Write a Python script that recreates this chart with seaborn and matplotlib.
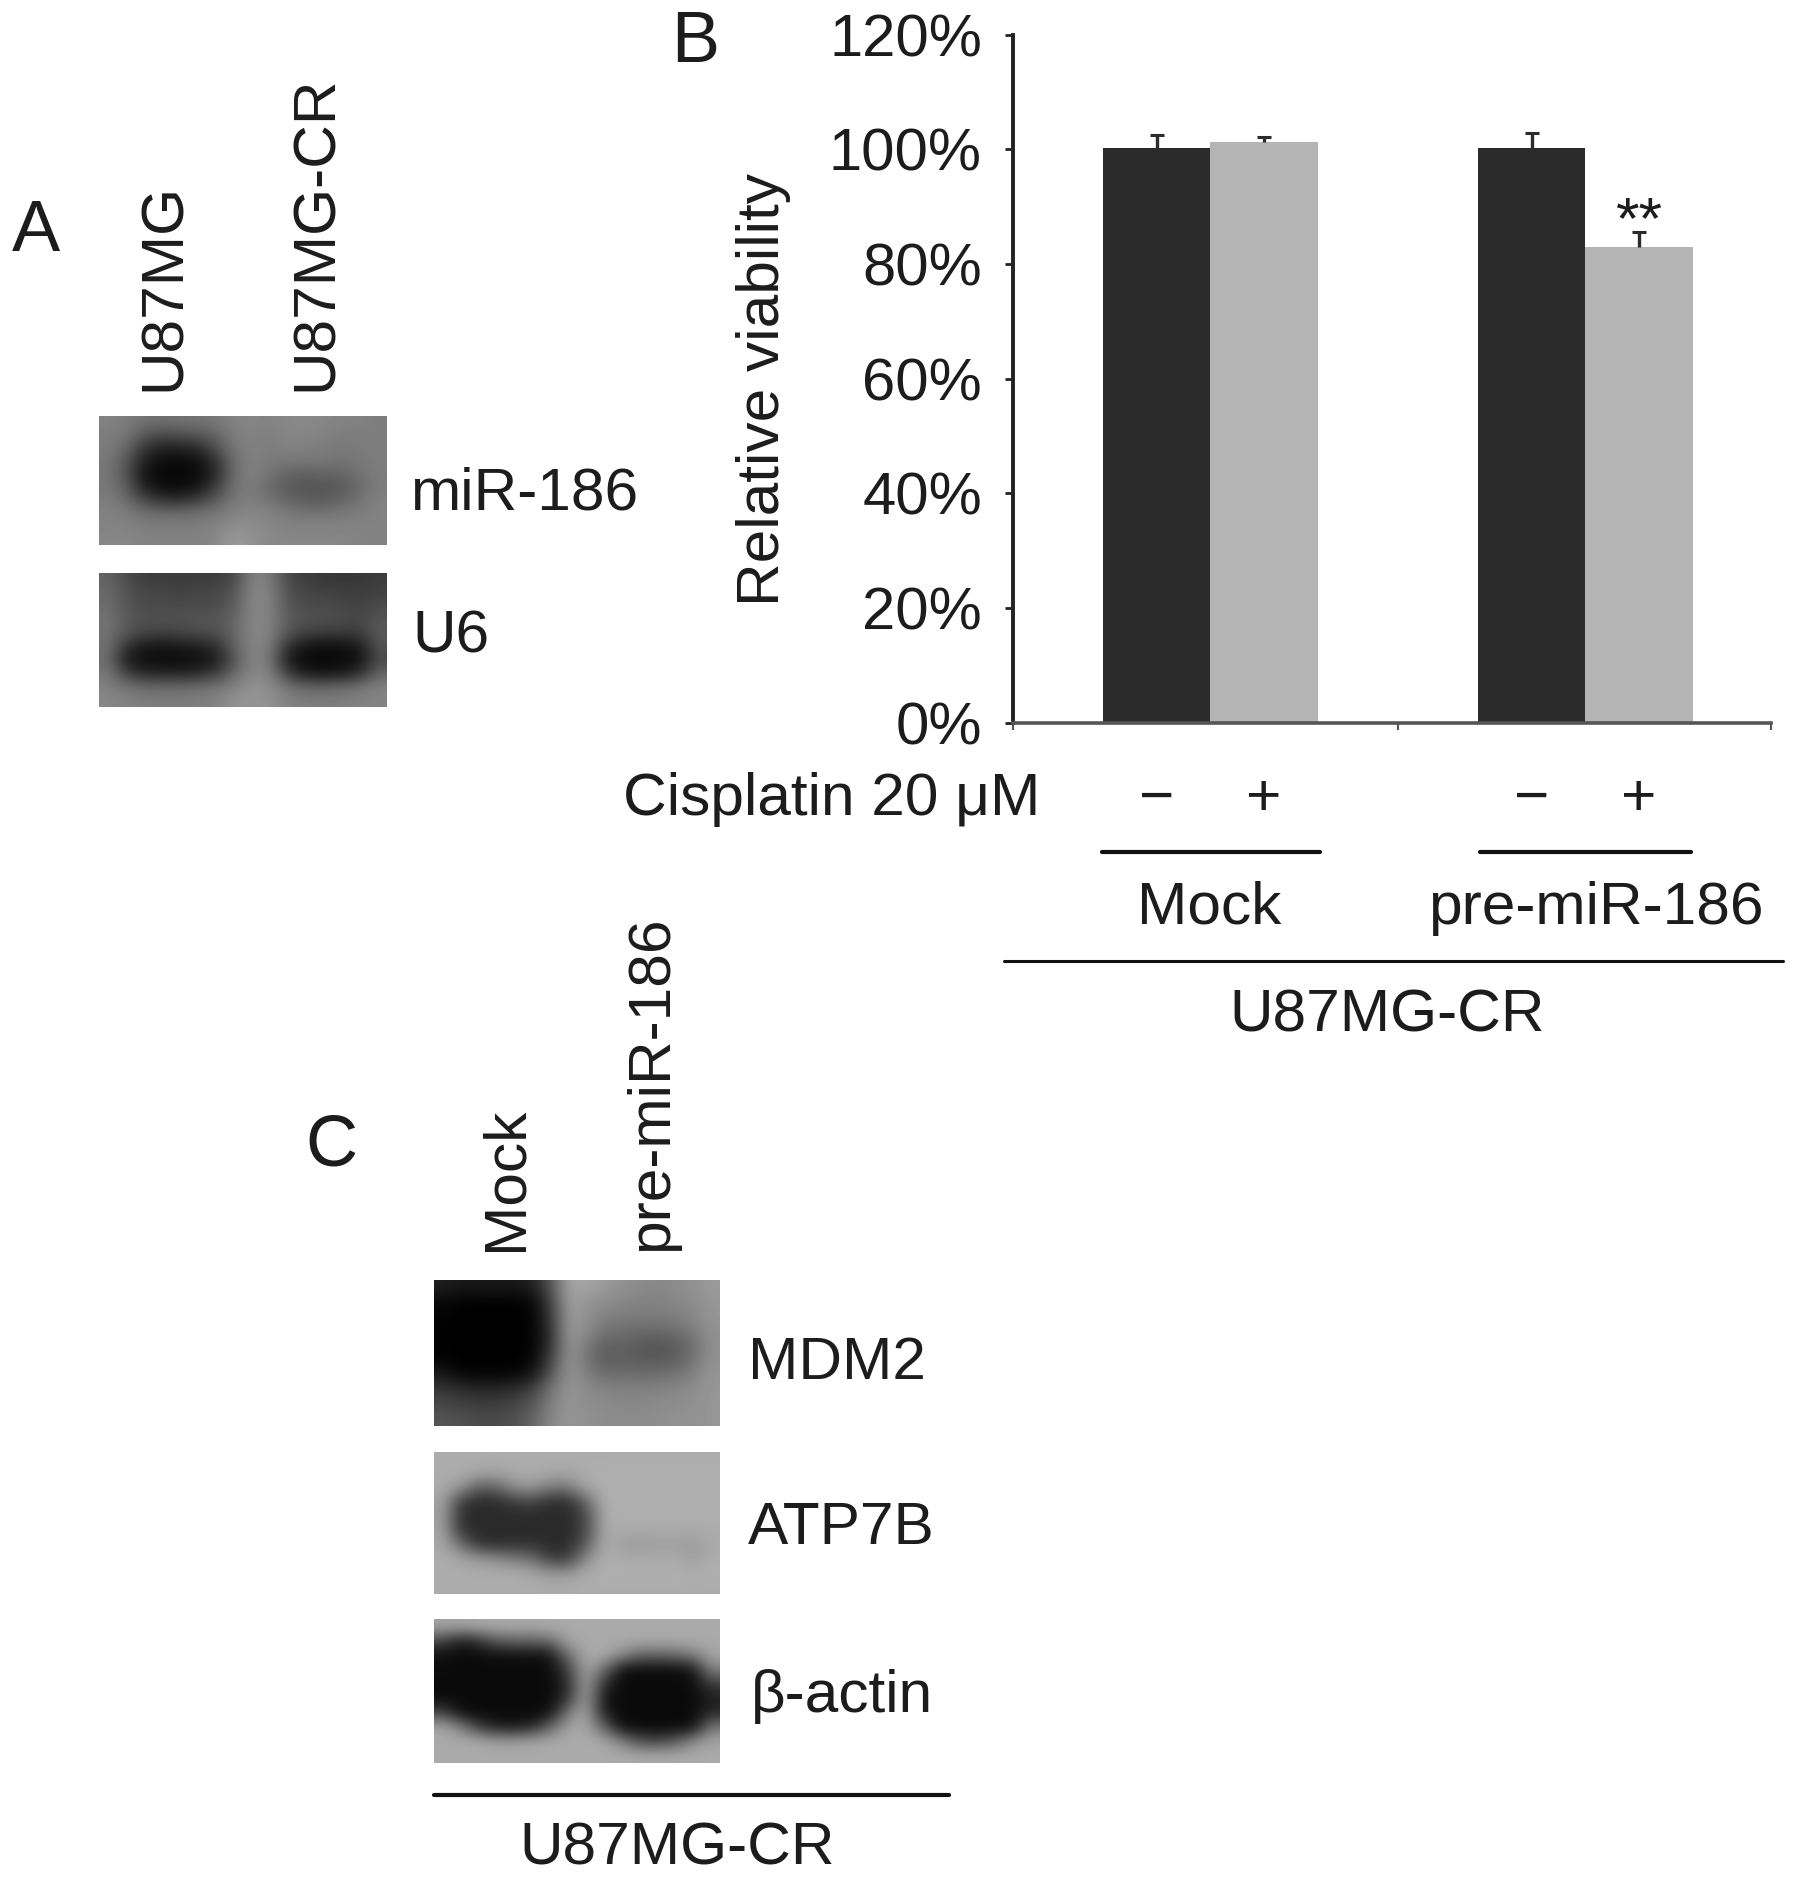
import numpy as np
import pandas as pd
import matplotlib
matplotlib.use('Agg')
import matplotlib.pyplot as plt
from matplotlib.lines import Line2D
import seaborn as sns

# bar values
groups = ['Mock', 'pre-miR-186']
treatments = ['-', '+']
viability_minus = [100.3, 100.3]
viability_plus = [101.3, 83]
err_minus = [2.2, 2.5]
err_plus = [0.8, 2.5]
y_ticks = [0, 20, 40, 60, 80, 100, 120]
y_labels = ['0%', '20%', '40%', '60%', '80%', '100%', '120%']

# blot grey levels, estimated on a coarse grid from the picture
blot_mir186 = [
    [130, 125, 115, 110, 115, 115, 120, 130, 135, 130, 135, 135, 135, 130, 130, 125],
    [125, 120, 85, 75, 80, 85, 100, 125, 130, 125, 135, 135, 130, 125, 125, 125],
    [125, 105, 55, 35, 35, 45, 80, 120, 130, 125, 130, 125, 125, 120, 125, 125],
    [120, 90, 30, 12, 10, 15, 50, 110, 130, 120, 120, 120, 120, 115, 120, 125],
    [120, 85, 20, 8, 8, 10, 40, 110, 130, 115, 100, 95, 100, 100, 115, 125],
    [120, 95, 30, 12, 10, 20, 60, 115, 125, 105, 90, 85, 85, 90, 105, 125],
    [125, 110, 70, 50, 45, 60, 90, 120, 125, 115, 100, 90, 90, 100, 115, 130],
    [130, 125, 110, 105, 105, 110, 120, 130, 135, 130, 120, 115, 115, 120, 125, 130],
    [130, 130, 125, 125, 125, 125, 130, 140, 140, 135, 130, 130, 130, 130, 130, 130],
    [135, 135, 130, 130, 130, 130, 135, 155, 145, 135, 135, 135, 135, 135, 130, 130],
]
blot_u6 = [
    [100, 75, 60, 60, 60, 60, 60, 70, 130, 125, 70, 60, 55, 55, 55, 60],
    [105, 85, 70, 70, 65, 70, 70, 85, 135, 130, 80, 70, 65, 65, 60, 65],
    [110, 85, 75, 75, 75, 75, 75, 90, 135, 130, 85, 75, 75, 70, 65, 75],
    [115, 90, 80, 80, 80, 85, 85, 100, 135, 130, 90, 80, 80, 75, 70, 85],
    [115, 85, 70, 65, 70, 75, 80, 100, 135, 130, 85, 65, 60, 60, 60, 90],
    [115, 50, 25, 20, 25, 30, 45, 95, 135, 125, 45, 20, 12, 15, 25, 85],
    [110, 30, 12, 12, 12, 15, 25, 85, 135, 120, 25, 10, 8, 10, 15, 75],
    [120, 65, 40, 35, 35, 40, 60, 105, 135, 130, 60, 25, 20, 25, 45, 100],
    [130, 115, 105, 105, 105, 110, 115, 130, 145, 140, 115, 100, 100, 105, 115, 130],
    [135, 130, 125, 125, 125, 125, 130, 145, 150, 145, 130, 125, 125, 125, 130, 130],
]
blot_mdm2 = [
    [30, 25, 25, 25, 25, 30, 80, 165, 165, 155, 145, 140, 135, 140, 145, 155],
    [8, 3, 2, 2, 2, 5, 60, 160, 150, 140, 135, 130, 130, 135, 140, 150],
    [3, 0, 0, 0, 0, 3, 50, 155, 145, 130, 125, 125, 125, 125, 135, 150],
    [2, 0, 0, 0, 0, 2, 45, 155, 140, 115, 110, 105, 105, 110, 125, 145],
    [2, 0, 0, 0, 0, 3, 45, 150, 125, 95, 100, 90, 85, 90, 110, 145],
    [3, 0, 0, 0, 0, 5, 60, 150, 120, 90, 95, 90, 90, 95, 115, 145],
    [25, 8, 5, 5, 8, 20, 85, 150, 130, 110, 110, 110, 110, 115, 130, 150],
    [55, 45, 40, 40, 45, 65, 115, 150, 140, 130, 130, 130, 130, 135, 140, 150],
    [70, 65, 60, 60, 70, 85, 125, 150, 140, 140, 135, 135, 140, 140, 145, 150],
    [85, 80, 75, 75, 80, 100, 135, 150, 145, 140, 140, 140, 140, 145, 145, 150],
]
blot_atp7b = [
    [172, 172, 172, 172, 172, 172, 172, 172, 172, 172, 172, 172, 172, 172, 172, 172],
    [172, 172, 165, 160, 170, 172, 168, 165, 172, 175, 175, 175, 175, 175, 175, 175],
    [170, 150, 90, 100, 140, 150, 120, 120, 165, 175, 175, 175, 175, 175, 175, 175],
    [165, 60, 42, 45, 60, 70, 45, 45, 100, 175, 175, 175, 175, 175, 175, 175],
    [160, 45, 42, 42, 42, 42, 42, 42, 70, 172, 175, 175, 175, 175, 175, 175],
    [165, 50, 42, 42, 42, 42, 42, 42, 70, 172, 170, 170, 170, 170, 170, 170],
    [168, 110, 50, 45, 50, 50, 42, 42, 90, 172, 160, 155, 160, 160, 155, 170],
    [172, 165, 150, 140, 120, 110, 60, 60, 140, 175, 170, 168, 170, 170, 160, 172],
    [172, 172, 172, 172, 172, 165, 150, 150, 170, 175, 175, 175, 175, 175, 172, 175],
    [172, 172, 172, 172, 172, 172, 172, 172, 172, 172, 172, 172, 172, 172, 172, 172],
]
blot_actin = [
    [165, 165, 170, 170, 170, 170, 170, 170, 170, 170, 170, 170, 170, 170, 170, 170],
    [70, 30, 50, 90, 100, 100, 110, 165, 170, 170, 170, 170, 170, 170, 170, 170],
    [15, 10, 12, 15, 15, 15, 20, 110, 170, 170, 140, 100, 100, 105, 125, 165],
    [12, 10, 10, 10, 10, 10, 12, 60, 170, 110, 15, 12, 12, 12, 20, 130],
    [10, 10, 10, 10, 10, 10, 10, 40, 170, 45, 10, 10, 10, 10, 12, 60],
    [10, 10, 10, 10, 10, 10, 10, 50, 170, 20, 10, 10, 10, 10, 10, 30],
    [70, 12, 10, 10, 10, 10, 15, 120, 170, 30, 10, 10, 10, 10, 10, 40],
    [165, 130, 60, 30, 25, 40, 100, 165, 170, 100, 12, 10, 10, 10, 12, 120],
    [170, 170, 170, 160, 160, 165, 170, 170, 170, 170, 130, 80, 70, 90, 140, 165],
    [170, 170, 170, 170, 170, 170, 170, 170, 170, 170, 170, 170, 170, 170, 170, 170],
]

sns.set_style('white')
plt.rcParams['font.family'] = ['Liberation Sans', 'DejaVu Sans']
INK = '#1c1c1c'
FS = 43.5

W, H = 1795, 1879
S = 1795 / 1498  # positions below were measured on the 1498 wide view
fig = plt.figure(figsize=(W / 100, H / 100), dpi=100, facecolor='white')


def fx(x):
    return x * S / W


def fy(y):
    return 1 - y * S / H


def add_axes(x0, y0, x1, y1):
    return fig.add_axes([fx(x0), fy(y1), fx(x1) - fx(x0), fy(y0) - fy(y1)])


def label(x, y, s, size=FS, **kw):
    kw.setdefault('ha', 'center')
    kw.setdefault('va', 'center')
    fig.text(fx(x), fy(y), s, fontsize=size, color=INK, **kw)


def rule(x0, x1, y, lw=3):
    fig.add_artist(Line2D([fx(x0), fx(x1)], [fy(y), fy(y)], color='#111111', lw=lw))


def blot(values, x0, y0, x1, y1):
    a = add_axes(x0, y0, x1, y1)
    a.imshow(np.array(values), cmap='gray', vmin=0, vmax=255, aspect='auto',
             interpolation='bicubic')
    a.set_axis_off()


# panel B bars
df = pd.DataFrame({
    'group': groups * 2,
    'cisplatin': [treatments[0]] * 2 + [treatments[1]] * 2,
    'viability': viability_minus + viability_plus,
})
ax = add_axes(845, 29, 1478, 603)
sns.barplot(data=df, x='group', y='viability', hue='cisplatin', hue_order=treatments,
            palette=['#2b2b2b', '#b4b4b4'], saturation=1, width=0.572, gap=0,
            errorbar=None, legend=False, linewidth=0, edgecolor='none', ax=ax)
ax.set_xlim(-0.527, 1.495)
ax.set_ylim(0, 120)
ax.set_xlabel('')
ax.set_ylabel('')

centers = []
for cont, vals, errs in zip(ax.containers, [viability_minus, viability_plus], [err_minus, err_plus]):
    xs = [p.get_x() + p.get_width() / 2 for p in cont.patches]
    centers.append(xs)
    eb = ax.errorbar(xs, vals, yerr=[[0, 0], errs], fmt='none', ecolor='#2b2b2b',
                     elinewidth=2.4, capsize=5, capthick=2.2)
    eb[1][0].set_visible(False)  # only the upper cap shows

ax.set_yticks(y_ticks)
ax.set_yticklabels(y_labels, fontsize=43, color=INK)
ax.set_xticks([])
ax.set_xticks([-0.527, 0.5, 1.495], minor=True)
ax.tick_params(axis='y', length=6, width=2, color='#222222', pad=16, left=True)
ax.tick_params(axis='x', which='minor', length=5, width=1.5, color='#555555', bottom=True)
for side in ['top', 'right']:
    ax.spines[side].set_visible(False)
ax.spines['left'].set_color('#222222')
ax.spines['left'].set_linewidth(2.8)
ax.spines['bottom'].set_color('#555555')
ax.spines['bottom'].set_linewidth(2.6)

# the +/- row sits under each bar
for xs, sign in zip(centers, ['\u2212', '+']):
    for x in xs:
        ax.text(x, -0.112, sign, transform=ax.get_xaxis_transform(), fontsize=FS,
                color=INK, ha='center', va='center', clip_on=False)
ax.text(centers[1][1], 87.3, '**', fontsize=FS, color=INK, ha='center', va='center')

label(637, 325, 'Relative viability', rotation=90)
label(868, 667, 'Cisplatin 20 \u03bcM', ha='right')
rule(920, 1102, 711)
rule(1235, 1411, 711)
label(1009, 758, 'Mock')
label(1332, 758, 'pre-miR-186')
rule(838, 1488, 802, lw=2.2)
label(1158, 848, 'U87MG-CR')

# panel A
blot(blot_mir186, 83, 347, 323, 455)
blot(blot_u6, 83, 478, 323, 590)
label(137, 326, 'U87MG', rotation=90, va='bottom')
label(264, 326, 'U87MG-CR', rotation=90, va='bottom')
label(342, 412, 'miR-186', ha='left')
label(344, 532, 'U6', ha='left')

# panel C
blot(blot_mdm2, 362, 1068, 600, 1190)
blot(blot_atp7b, 362, 1212, 600, 1330)
blot(blot_actin, 362, 1351, 600, 1471)
label(422, 1044, 'Mock', rotation=90, va='bottom')
label(544, 1044, 'pre-miR-186', rotation=90, va='bottom')
label(624, 1138, 'MDM2', ha='left')
label(624, 1276, 'ATP7B', ha='left')
label(627, 1416, '\u03b2-actin', ha='left')
rule(362, 792, 1498)
label(565, 1543, 'U87MG-CR')

# panel letters
label(30, 194, 'A', size=52)
label(580, 36, 'B', size=52)
label(277, 957, 'C', size=52)

fig.savefig('out.png', dpi=100, facecolor='white')
